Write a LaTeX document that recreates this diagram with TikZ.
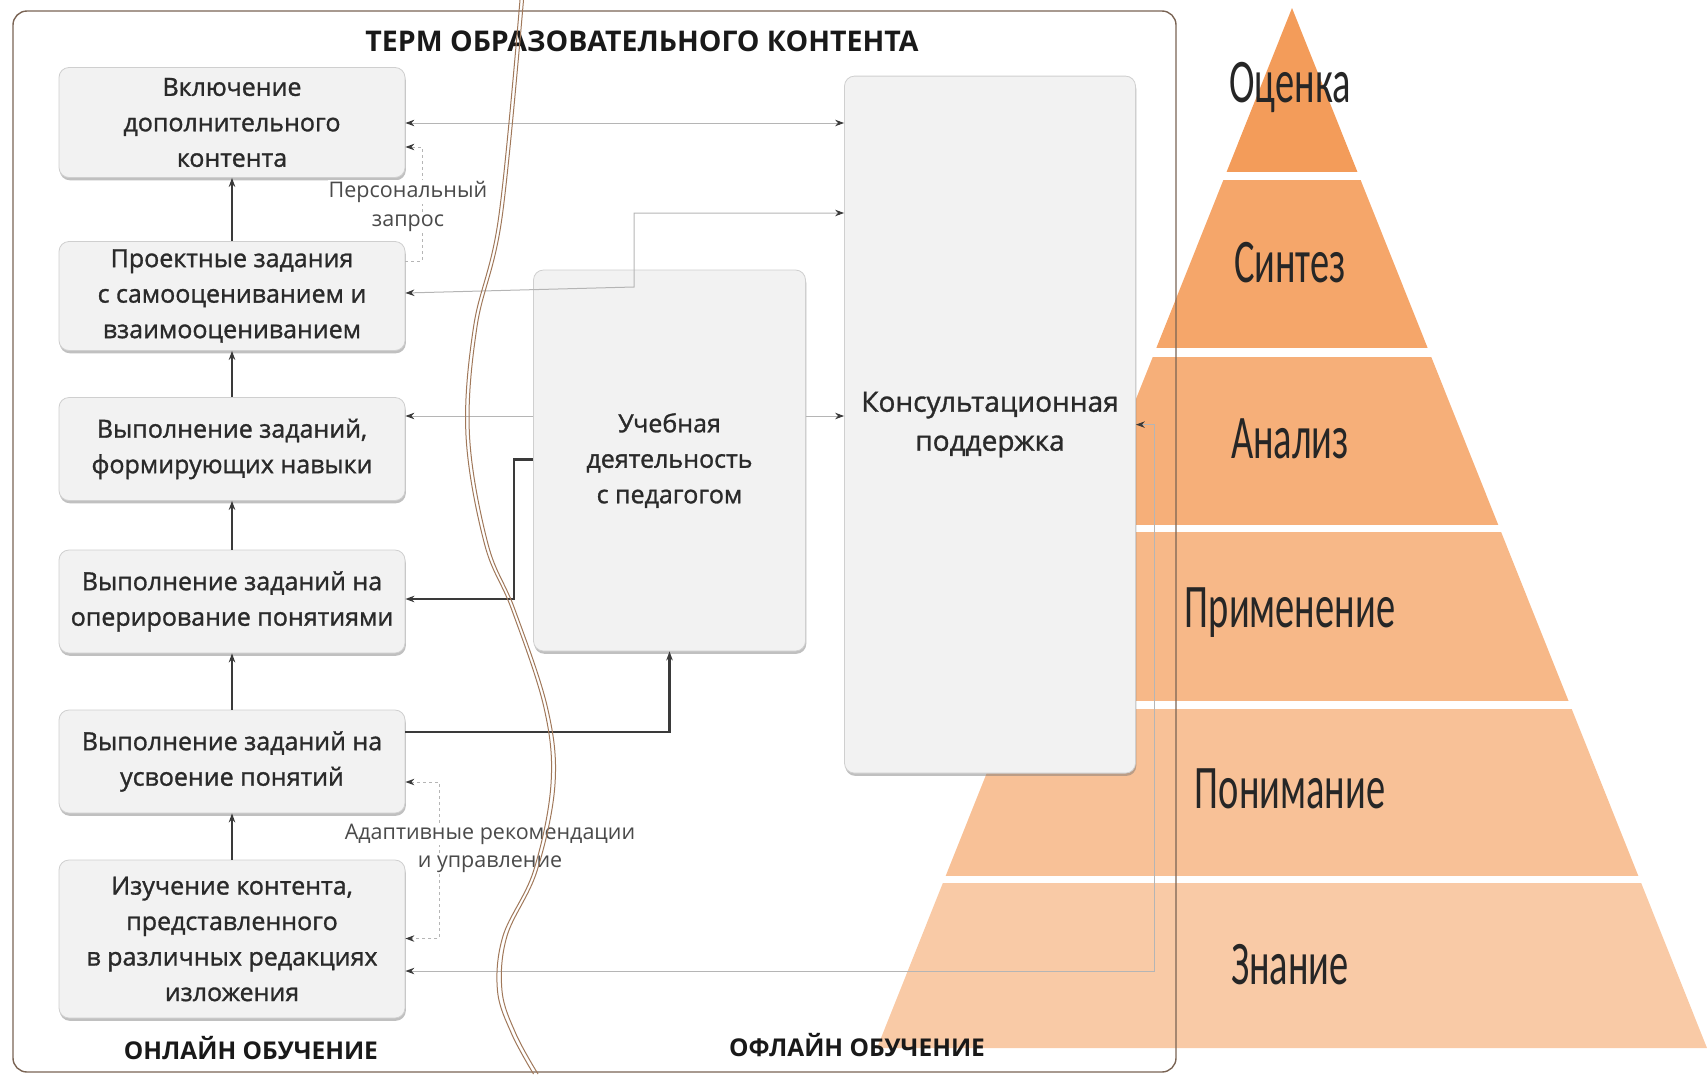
\documentclass[tikz,border=0pt]{standalone}
\usepackage{fontspec}
\setmainfont{Open Sans}
\newfontfamily\boxfont{Open Sans}[UprightFeatures={FakeBold=1.2}]
\newfontfamily\pyrfont[FakeStretch=0.62]{Carlito}
\usetikzlibrary{arrows.meta,shadows,calc}

\definecolor{boxfill}{HTML}{F2F2F2}
\definecolor{boxdraw}{HTML}{CFCFCF}
\definecolor{framec}{HTML}{7A6454}
\definecolor{wavec}{HTML}{A0785A}
\definecolor{lightc}{HTML}{B5B5B5}
\definecolor{darkc}{HTML}{3A3A3A}
\definecolor{txtc}{HTML}{2A2A2A}
\definecolor{pyrA}{HTML}{F39C5A}
\definecolor{pyrB}{HTML}{F5A66A}
\definecolor{pyrC}{HTML}{F6AF79}
\definecolor{pyrD}{HTML}{F7B888}
\definecolor{pyrE}{HTML}{F8C197}
\definecolor{pyrF}{HTML}{F9CAA6}

\tikzset{
  stagebox/.style={draw=boxdraw, fill=boxfill, rounded corners=10pt, line width=0.8pt,
    align=center, text=txtc, inner sep=0pt,
    font=\boxfont\fontsize{25}{35.5}\selectfont,
    drop shadow={shadow xshift=0.8pt, shadow yshift=-2.8pt, opacity=0.45, fill=black!55}},
  ltline/.style={draw=lightc, line width=1pt},
  dkline/.style={draw=darkc, line width=2.2pt},
  lbl/.style={align=center, text=txtc!85, font=\fontsize{21.5}{31.5}\selectfont, fill=white, inner xsep=1pt, inner ysep=1pt},
  hdr/.style={text=black!90, font=\bfseries\fontsize{24.5}{28}\selectfont},
  pyrlbl/.style={text=black!85, font=\pyrfont\fontsize{62}{62}\selectfont},
  wave/.style={draw=wavec, line width=1pt},
  >={Stealth[length=9pt,width=6.5pt,color=darkc]}
}

\begin{document}
\begin{tikzpicture}[x=1pt,y=-1pt]
\useasboundingbox (0,0) rectangle (1707,1074);

% pyramid
\coordinate (apex) at (1292,8);
\coordinate (bl) at (877,1048);
\coordinate (br) at (1707,1048);
\foreach \t/\b/\c in {8/171/pyrA,180/347/pyrB,357/524/pyrC,532/700/pyrD,709/875/pyrE,883/1048/pyrF}{
  \begin{scope}
    \clip (0,\t) rectangle (1707,\b);
    \fill[\c] (apex) -- (bl) -- (br) -- cycle;
  \end{scope}
}
\node[pyrlbl] (p1) at (1290,87) {Оценка};
\node[pyrlbl] (p2) at (1290,263) {Синтез};
\node[pyrlbl] (p3) at (1290,439) {Анализ};
\node[pyrlbl] (p4) at (1290,613) {Применение};
\node[pyrlbl] (p5) at (1290,789) {Понимание};
\node[pyrlbl] (p6) at (1290,965) {Знание};

% frame
\draw[framec, line width=1.4pt, rounded corners=14pt] (13,11) rectangle (1176,1072);
\node[hdr, font=\bfseries\fontsize{28.5}{32}\selectfont] (title) at (642,41) {ТЕРМ ОБРАЗОВАТЕЛЬНОГО КОНТЕНТА};
\node[hdr] (online) at (251,1048) {ОНЛАЙН ОБУЧЕНИЕ};
\node[hdr] (offline) at (857,1045) {ОФЛАЙН ОБУЧЕНИЕ};

% boxes
\node[stagebox, minimum width=346pt, minimum height=110pt] (b1) at (232,122.5) {Включение\\дополнительного\\контента};
\node[stagebox, minimum width=346pt, minimum height=109pt] (b2) at (232,296) {Проектные задания\\с самооцениванием и\\взаимооцениванием};
\node[stagebox, minimum width=346pt, minimum height=103pt] (b3) at (232,449) {Выполнение заданий,\\формирующих навыки};
\node[stagebox, minimum width=346pt, minimum height=103pt] (b4) at (232,601.5) {Выполнение заданий на\\оперирование понятиями};
\node[stagebox, minimum width=346pt, minimum height=103pt] (b5) at (232,761.5) {Выполнение заданий на\\усвоение понятий};
\node[stagebox, minimum width=346pt, minimum height=158pt] (b6) at (232,939) {Изучение контента,\\представленного\\в различных редакциях\\изложения};
\node[stagebox, minimum width=272pt, minimum height=381pt] (mid) at (669.5,460.5) {Учебная\\деятельность\\с педагогом};
\node[stagebox, minimum width=291pt, minimum height=697pt, font=\boxfont\fontsize{28}{39}\selectfont] (cons) at (990,424.6) {Консультационная\\поддержка};

% vertical progression arrows
\foreach \lo/\hi in {b6/b5,b5/b4,b4/b3,b3/b2,b2/b1}{
  \draw[draw=darkc, line width=2pt, ->] (\lo.north) -- (\hi.south);
}

% light connectors
\draw[ltline, <->] (b1.east |- 0,123) -- (cons.west |- 0,123);
\draw[ltline, dashed, ->] (b2.east |- 0,261) -| (422,147) -- (b1.east |- 0,147);
\draw[ltline, <->] (b2.east |- 0,293) -- (634,287) |- (cons.west |- 0,213);
\draw[ltline, ->] (mid.west |- 0,416) -- (b3.east |- 0,416);
\draw[ltline, ->] (mid.east |- 0,416) -- (cons.west |- 0,416);
\draw[ltline, <->] (b6.east |- 0,971) -| (1154,424.6) -- (cons.east |- 0,424.6);
\draw[ltline, dashed, <->] (b5.east |- 0,782) -| (439,938.5) -- (b6.east |- 0,938.5);

% dark connectors
\draw[dkline, ->] (mid.west |- 0,459.5) -| (514,599) -- (b4.east |- 0,599);
\draw[dkline, ->] (b5.east |- 0,731.6) -| (mid.south);

% labels
\node[lbl] (pz1) at (408,192) {Персональный};
\node[lbl] (pz2) at (408,223) {запрос};
\node[lbl] (ad1) at (490,834) {Адаптивные рекомендации};
\node[lbl] (ad2) at (490,864.5) {и управление};

% wavy divider
\draw[wave] plot[smooth, tension=0.6] coordinates {(520,0) (498.6,217.7) (473.6,326.6) (466,435.5) (484.5,544) (511.7,609.7) (544,707.7) (551,784) (533.5,871) (503,936) (497.5,990.7) (511.7,1034) (533.5,1074)};
\draw[wave] plot[smooth, tension=0.6] coordinates {(523.5,0) (502,217.7) (477,326.6) (469.5,435.5) (488,544) (515,609.7) (547.5,707.7) (555,784) (537,871) (507,936) (502,990.7) (516,1034) (538,1074)};
\end{tikzpicture}
\end{document}
